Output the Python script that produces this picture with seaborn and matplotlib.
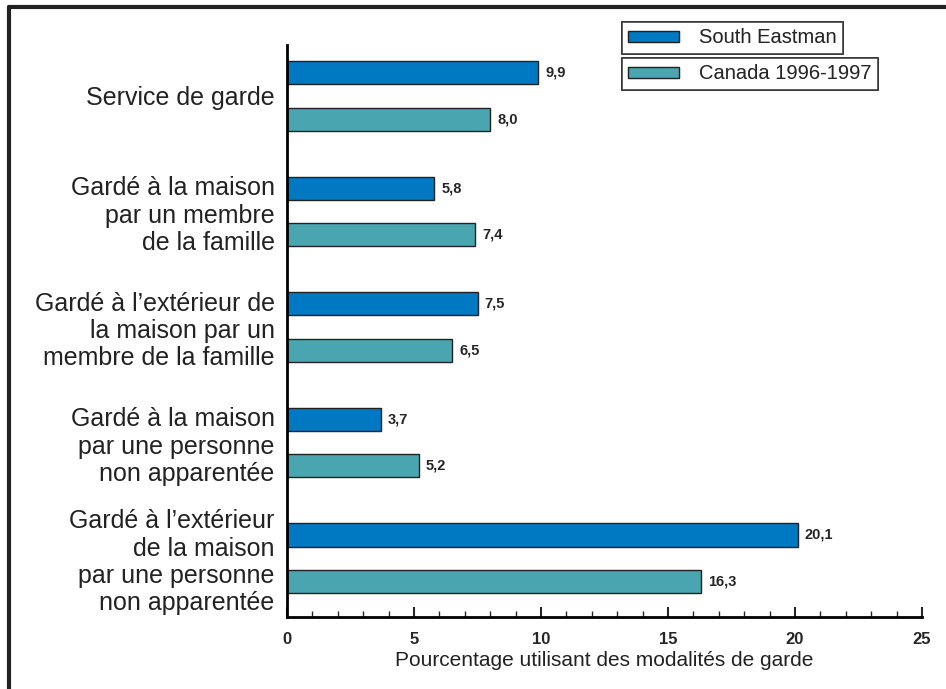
import numpy as np
import pandas as pd
import seaborn as sns
import matplotlib.pyplot as plt
from matplotlib.patches import Patch
from matplotlib.lines import Line2D
from matplotlib.ticker import MultipleLocator

# data
categories = [
    "Service de garde",
    "Gardé à la maison\npar un membre\nde la famille",
    "Gardé à l’extérieur de\nla maison par un\nmembre de la famille",
    "Gardé à la maison\npar une personne\nnon apparentée",
    "Gardé à l’extérieur\nde la maison\npar une personne\nnon apparentée",
]
south_eastman = [9.9, 5.8, 7.5, 3.7, 20.1]
canada = [8.0, 7.4, 6.5, 5.2, 16.3]
series_names = ["South Eastman", "Canada 1996-1997"]
colors = ["#0079C2", "#49A5AF"]

df = pd.DataFrame({
    "cat": categories * 2,
    "val": south_eastman + canada,
    "serie": [series_names[0]] * 5 + [series_names[1]] * 5,
})

sns.set_style("white")
plt.rcParams["font.family"] = ["Liberation Sans", "DejaVu Sans"]

fig = plt.figure(figsize=(9.46, 6.89), dpi=100)
ax = fig.add_axes([0.3034, 0.1045, 0.6712, 0.830])

sns.barplot(data=df, y="cat", x="val", hue="serie", orient="h",
            palette=colors, saturation=1, width=0.8, gap=0.5,
            edgecolor="#222222", linewidth=1.0, legend=False, ax=ax)

# value labels
for cont in ax.containers:
    labels = [f"{v:.1f}".replace(".", ",") for v in cont.datavalues]
    ax.bar_label(cont, labels=labels, padding=5, fontsize=10.5,
                 fontweight="bold")

ax.set_xlim(0, 25)
ax.set_ylim(4.51, -0.44)
ax.xaxis.set_major_locator(MultipleLocator(5))
ax.xaxis.set_minor_locator(MultipleLocator(1))
ax.tick_params(axis="x", which="major", direction="in", length=7, width=1.5,
               labelsize=12, pad=11, bottom=True)
ax.tick_params(axis="x", which="minor", direction="in", length=4, width=1,
               bottom=True)
for lab in ax.get_xticklabels():
    lab.set_fontweight("bold")
ax.tick_params(axis="y", length=0, labelsize=18, pad=9)
for lab in ax.get_yticklabels():
    lab.set_horizontalalignment("right")
    lab.set_color("#222222")
    lab.set_linespacing(1.17)

ax.set_ylabel("")
ax.set_xlabel("Pourcentage utilisant des modalités de garde", fontsize=15,
              color="#222222", labelpad=3)

sns.despine(ax=ax)
ax.spines["left"].set_linewidth(2)
ax.spines["bottom"].set_linewidth(2)
ax.spines["left"].set_color("black")
ax.spines["bottom"].set_color("black")

# two separate legend boxes
for i, (name, col) in enumerate(zip(series_names, colors)):
    h = Patch(facecolor=col, edgecolor="#222222", linewidth=1)
    leg = fig.legend(handles=[h], labels=[name], loc="upper left",
                     bbox_to_anchor=(0.6575, 0.968 - i * 0.0522),
                     fontsize=14.5, frameon=True, fancybox=False,
                     handlelength=2.5, handleheight=0.45, borderpad=0.32,
                     handletextpad=1.0, borderaxespad=0)
    leg.get_frame().set_edgecolor("#222222")
    leg.get_frame().set_linewidth(1.2)
    fig.add_artist(leg)

# outer frame (top and left only)
fig.add_artist(Line2D([0.0095, 1.0], [0.9898, 0.9898], color="#222222",
                      linewidth=3, transform=fig.transFigure))
fig.add_artist(Line2D([0.0095, 0.0095], [0.0, 0.9898], color="#222222",
                      linewidth=3, transform=fig.transFigure))

fig.savefig("out.png", dpi=100)
